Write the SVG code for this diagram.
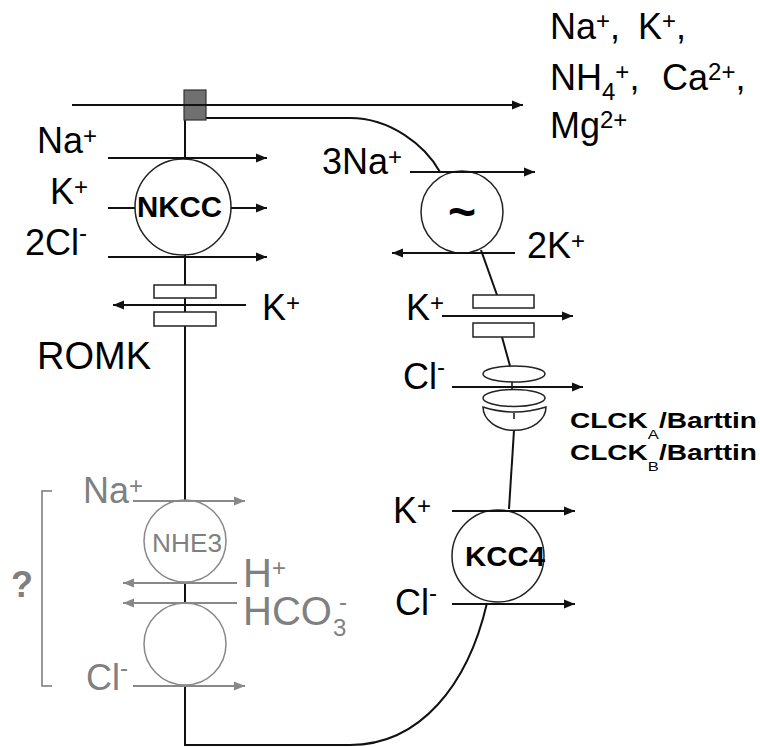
<svg xmlns="http://www.w3.org/2000/svg" width="760" height="747" viewBox="0 0 760 747">
<style>
.ln{stroke:#111;stroke-width:2;fill:none}
.arr{stroke:#111;stroke-width:2;fill:none;marker-end:url(#ah)}
.garr{stroke:#888;stroke-width:2;fill:none;marker-end:url(#ahg)}
.cir{fill:#fff;stroke:#222;stroke-width:1.5}
.gcir{fill:#fff;stroke:#888;stroke-width:1.5}
.box{fill:#fff;stroke:#222;stroke-width:1.5}
text{font-family:"Liberation Sans",Arial,sans-serif;font-size:36px;fill:#000}
.g{fill:#808080}
.sup{font-size:24px}
.sub{font-size:24px}
.b{font-weight:bold}
</style>
<defs>
<marker id="ah" markerUnits="userSpaceOnUse" markerWidth="12" markerHeight="10" refX="11" refY="4.5" orient="auto" overflow="visible"><path d="M0,0 L11,4.5 L0,9 z" fill="#111"/></marker>
<marker id="ahg" markerUnits="userSpaceOnUse" markerWidth="12" markerHeight="10" refX="11" refY="4.5" orient="auto" overflow="visible"><path d="M0,0 L11,4.5 L0,9 z" fill="#888"/></marker>
</defs>

<g id="membrane">
<path class="ln" d="M185,120 L185,745 L350,745 C420,745 468,685 487,603"/>
<path class="ln" d="M206,118 L350,118 C390,118 425,145 440,172"/>
<path class="ln" d="M481,250 L497,295"/>
<path class="ln" d="M502,337 L510,366"/>
<path class="ln" d="M514,430 L509,509"/>
<path class="ln" style="stroke:#777;stroke-width:1.5" d="M52,491 L42,491 L42,686 L52,686"/>
</g>

<g id="tightjunction">
<rect x="184" y="90" width="22" height="30" fill="#707070" stroke="#333" stroke-width="1.2"/>
</g>

<g id="nkcc">
<circle class="cir" cx="183" cy="207" r="48"/>
<text class="b" x="137" y="217" style="font-size:29px" textLength="85" lengthAdjust="spacingAndGlyphs">NKCC</text>
</g>

<g id="romk">
<rect class="box" x="154" y="285" width="62" height="13"/>
<rect class="box" x="154" y="312" width="62" height="14"/>
</g>

<g id="nakatpase">
<circle class="cir" cx="462" cy="212" r="41"/>
<text class="b" x="462" y="228" text-anchor="middle" style="font-size:48px">~</text>
</g>

<g id="kchannel">
<rect class="box" x="473" y="295" width="61" height="13"/>
<rect class="box" x="473" y="323" width="61" height="14"/>
</g>

<g id="clck">
<ellipse class="cir" cx="514" cy="374" rx="31" ry="8"/>
<ellipse class="cir" cx="514" cy="398" rx="31" ry="8.5"/>
<path class="cir" d="M483,407 Q514,417 546,407 A31,23 0 0 1 483,407 Z"/>
<path class="ln" style="stroke-width:1.5" d="M512,382 L512,390 M514,413 L514,419"/>
</g>

<g id="kcc4">
<circle class="cir" cx="498" cy="556" r="46"/>
<text class="b" x="465" y="566" style="font-size:27px" textLength="80" lengthAdjust="spacingAndGlyphs">KCC4</text>
</g>

<g id="nhe3">
<circle class="gcir" cx="185" cy="541" r="41"/>
<text class="g" x="152" y="552" style="font-size:26px" textLength="70" lengthAdjust="spacingAndGlyphs">NHE3</text>
</g>

<g id="anionexchanger">
<circle class="gcir" cx="185" cy="644" r="41"/>
</g>

<g id="connectors">
<line class="arr" x1="72" y1="105" x2="523" y2="105"/>
<line class="arr" x1="108" y1="158" x2="267" y2="158"/>
<line class="ln" x1="108" y1="208" x2="135" y2="208"/>
<line class="arr" x1="231" y1="208" x2="267" y2="208"/>
<line class="arr" x1="108" y1="257" x2="267" y2="257"/>
<line class="arr" x1="246" y1="305" x2="113" y2="305"/>
<line class="arr" x1="410" y1="172" x2="535" y2="172"/>
<line class="arr" x1="515" y1="253" x2="392" y2="253"/>
<line class="arr" x1="442" y1="316" x2="573" y2="316"/>
<line class="arr" x1="452" y1="387" x2="583" y2="387"/>
<line class="arr" x1="452" y1="511" x2="575" y2="511"/>
<line class="arr" x1="452" y1="604" x2="575" y2="604"/>
<line class="garr" x1="133" y1="501" x2="245" y2="501"/>
<line class="garr" x1="237" y1="583" x2="123" y2="583"/>
<line class="garr" x1="237" y1="603" x2="123" y2="603"/>
<line class="garr" x1="133" y1="686" x2="245" y2="686"/>
</g>

<g id="labels">
<text x="550" y="39">Na<tspan class="sup" dy="-10">+</tspan><tspan dy="10">,</tspan><tspan x="638">K</tspan><tspan class="sup" dy="-10">+</tspan><tspan dy="10">,</tspan></text>
<text x="550" y="90">NH<tspan class="sub" dy="10">4</tspan><tspan class="sup" dy="-20">+</tspan><tspan dy="10">,</tspan><tspan x="662">Ca</tspan><tspan class="sup" dy="-10">2+</tspan><tspan dy="10">,</tspan></text>
<text x="550" y="138">Mg<tspan class="sup" dy="-10">2+</tspan></text>

<text x="37" y="153">Na<tspan class="sup" dy="-9">+</tspan></text>
<text x="50" y="204">K<tspan class="sup" dy="-9">+</tspan></text>
<text x="25" y="255">2Cl<tspan class="sup" dy="-14">-</tspan></text>
<text x="262" y="320">K<tspan class="sup" dy="-9">+</tspan></text>
<text x="37" y="369" style="font-size:38px">ROMK</text>

<text x="322" y="174">3Na<tspan class="sup" dy="-9">+</tspan></text>
<text x="527" y="258">2K<tspan class="sup" dy="-9">+</tspan></text>
<text x="406" y="320">K<tspan class="sup" dy="-9">+</tspan></text>
<text x="403" y="389">Cl<tspan class="sup" dy="-14">-</tspan></text>
<text class="b" x="570" y="428" style="font-size:22px" textLength="187" lengthAdjust="spacingAndGlyphs">CLCK<tspan style="font-size:13px;font-weight:normal" dy="11">A</tspan><tspan dy="-11">/Barttin</tspan></text>
<text class="b" x="570" y="460" style="font-size:22px" textLength="187" lengthAdjust="spacingAndGlyphs">CLCK<tspan style="font-size:13px;font-weight:normal" dy="11">B</tspan><tspan dy="-11">/Barttin</tspan></text>
<text x="393" y="523">K<tspan class="sup" dy="-9">+</tspan></text>
<text x="395" y="615">Cl<tspan class="sup" dy="-14">-</tspan></text>

<text class="g" x="83" y="503">Na<tspan class="sup" dy="-9">+</tspan></text>
<text class="g" x="243" y="587" style="font-size:40px">H<tspan class="sup" dy="-11">+</tspan></text>
<text class="g" x="243" y="625" style="font-size:40px">HCO<tspan class="sub" x="333" dy="11">3</tspan><tspan class="sup" x="339" dy="-26">-</tspan></text>
<text class="g" x="86" y="690">Cl<tspan class="sup" dy="-14">-</tspan></text>
<text class="g b" x="22" y="597" text-anchor="middle">?</text>
</g>
</svg>
